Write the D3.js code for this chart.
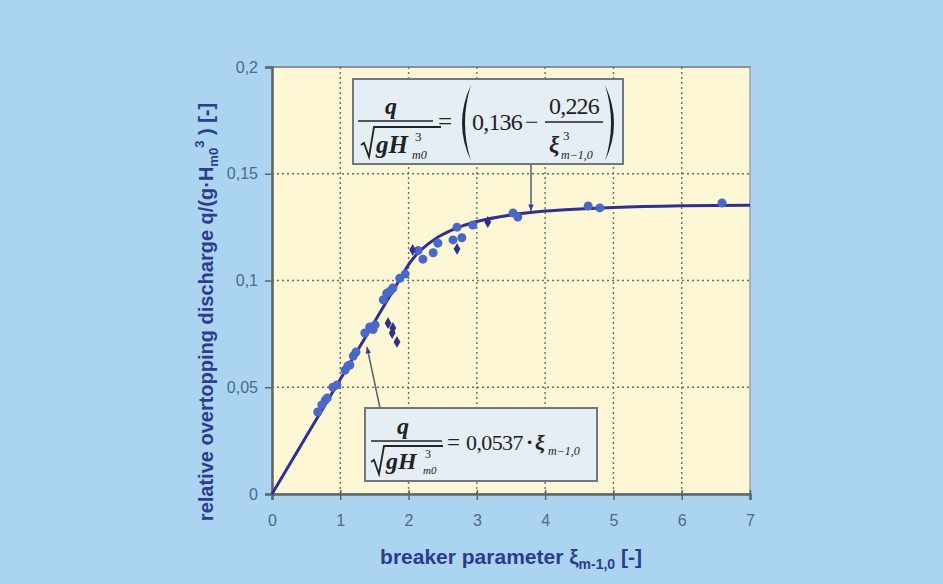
<!DOCTYPE html>
<html>
<head>
<meta charset="utf-8">
<script src="https://cdn.jsdelivr.net/npm/d3@7"></script>
<style>
html,body{margin:0;padding:0;background:#aad4ef;}
svg{display:block;}
</style>
</head>
<body>
<svg id="chart" width="943" height="584"></svg>
<script>
// ---- data ----
const xTicks = [0,1,2,3,4,5,6,7];
const yTicks = [0,0.05,0.1,0.15,0.2];
const yTickLabels = ["0","0,05","0,1","0,15","0,2"];
const xTickLabels = ["0","1","2","3","4","5","6","7"];

// measured points (circles)
const circleX = [0.67,0.73,0.78,0.81,0.89,0.95,1.07,1.11,1.14,1.19,1.23,1.36,1.43,1.51,1.48,1.63,1.68,1.77,1.73,1.87,1.95,2.14,2.21,2.36,2.43,2.71,2.65,2.78,2.94,3.53,3.60,4.63,4.80,6.59];
const circleY = [0.0384,0.0417,0.0440,0.0450,0.0500,0.0510,0.0580,0.0600,0.0604,0.0646,0.0665,0.0754,0.0782,0.0792,0.0770,0.0910,0.0940,0.0965,0.0950,0.1010,0.1030,0.1140,0.1100,0.1130,0.1175,0.1250,0.1190,0.1200,0.1260,0.1316,0.1297,0.1349,0.1340,0.1363];
// measured points (diamonds)
const diamondX = [2.06,2.71,3.16,1.70,1.77,1.76,1.83];
const diamondY = [0.1143,0.1148,0.1274,0.0800,0.0778,0.0754,0.0712];

// fitted curve
const curveX = [0,0.5,1,1.5,1.8,1.9,2.0,2.1,2.2,2.4,2.6,2.8,3.0,3.5,4,4.5,5,6,7];
const curveY = [0,0.0269,0.0537,0.0806,0.0967,0.1020,0.1074,0.1116,0.1148,0.1197,0.1231,0.1257,0.1276,0.1307,0.1325,0.1335,0.1342,0.1350,0.1353];

// ---- layout ----
const svg = d3.select("#chart");
const W = 943, H = 584;
const L = 272, R = 750, T = 67, B = 494;
const x = d3.scaleLinear().domain([0,7]).range([L,R]);
const y = d3.scaleLinear().domain([0,0.2]).range([B,T]);
const sans = "Liberation Sans, Arial, sans-serif";

svg.append("rect").attr("width",W).attr("height",H).attr("fill","#aad4ef");
svg.append("rect").attr("x",L).attr("y",T).attr("width",R-L).attr("height",B-T)
  .attr("fill","#fdf7d6").attr("stroke","#9aa0a4").attr("stroke-width",1.5);
svg.append("line").attr("x1",L).attr("x2",R).attr("y1",T).attr("y2",T).attr("stroke","#8a9298").attr("stroke-width",2);

// grid
const grid = svg.append("g").attr("stroke","#6a6a70").attr("stroke-width",1.4).attr("stroke-dasharray","2,3");
xTicks.filter(d=>d>0&&d<7).forEach(d=>{
  grid.append("line").attr("x1",x(d)).attr("x2",x(d)).attr("y1",T).attr("y2",B);
});
yTicks.filter(d=>d>0&&d<0.2).forEach(d=>{
  grid.append("line").attr("x1",L).attr("x2",R).attr("y1",y(d)).attr("y2",y(d));
});

// axes
const xAxis = d3.axisBottom(x).tickValues(xTicks).tickFormat((d,i)=>xTickLabels[i]).tickSize(6).tickPadding(15);
const yAxis = d3.axisLeft(y).tickValues(yTicks).tickFormat((d,i)=>yTickLabels[i]).tickSize(7).tickPadding(7);
const gx = svg.append("g").attr("transform",`translate(0,${B})`).call(xAxis);
const gy = svg.append("g").attr("transform",`translate(${L},0)`).call(yAxis);
[gx,gy].forEach(g=>{
  g.attr("font-size",null).attr("font-family",null);
  g.select(".domain").attr("stroke","#5c666c").attr("stroke-width",2.5);
  g.selectAll(".tick line").attr("stroke","#5c666c").attr("stroke-width",1.5);
  g.selectAll("text").attr("fill","#4b6b8c").style("font-family",sans).style("font-size","16px");
});
gx.selectAll(".tick line").attr("y1",-4);

// axis titles
svg.append("text").attr("x",511).attr("y",564).attr("text-anchor","middle")
  .style("font-family",sans).attr("font-weight","bold").style("font-size","21px")
  .attr("fill","#2d3c8c")
  .call(t=>{
    t.append("tspan").text("breaker parameter ξ");
    t.append("tspan").style("font-size","14px").attr("dy",5).text("m-1,0");
    t.append("tspan").attr("dy",-5).text(" [-]");
  });
svg.append("text").attr("transform","translate(213,312) rotate(-90)").attr("text-anchor","middle")
  .style("font-family",sans).attr("font-weight","bold").style("font-size","20px")
  .attr("fill","#2d3c8c")
  .call(t=>{
    t.append("tspan").text("relative overtopping discharge q/(g·H");
    t.append("tspan").style("font-size","13px").attr("dy",5).text("m0");
    t.append("tspan").style("font-size","13px").attr("dy",-14).text("3");
    t.append("tspan").attr("dy",9).text(" ) [-]");
  });

// curve
const line = d3.line().x(d=>x(d[0])).y(d=>y(d[1])).curve(d3.curveMonotoneX);
svg.append("path").datum(curveX.map((v,i)=>[v,curveY[i]]))
  .attr("d",line).attr("fill","none").attr("stroke","#2e3190").attr("stroke-width",3);

// points
svg.append("g").selectAll("circle").data(circleX.map((v,i)=>[v,circleY[i]])).join("circle")
  .attr("cx",d=>x(d[0])).attr("cy",d=>y(d[1])).attr("r",4.5).attr("fill","#4a68c6");
svg.append("g").selectAll("path").data(diamondX.map((v,i)=>[v,diamondY[i]])).join("path")
  .attr("d",d3.symbol(d3.symbolDiamond,40))
  .attr("transform",d=>`translate(${x(d[0])},${y(d[1])})`).attr("fill","#2f3088");

// arrows
function arrow(x1,y1,x2,y2){
  svg.append("line").attr("x1",x1).attr("y1",y1).attr("x2",x2).attr("y2",y2)
    .attr("stroke","#5f6770").attr("stroke-width",1.6);
  const a = Math.atan2(y2-y1,x2-x1), s=7;
  const p = [[x2,y2],[x2-s*Math.cos(a-0.4),y2-s*Math.sin(a-0.4)],[x2-s*Math.cos(a+0.4),y2-s*Math.sin(a+0.4)]];
  svg.append("path").attr("d","M"+p.join("L")+"Z").attr("fill","#3a3f8a");
}
arrow(531,164,531,211);
arrow(380,408,367,347);

const serif = "Liberation Serif, Times New Roman, serif";
const ink = "#222226";

function sqrtDen(g, x0, yTop, yBot, w){
  g.append("path").attr("d",`M${x0},${yBot-12} L${x0+3},${yBot-14} L${x0+8},${yBot} L${x0+13},${yTop} L${x0+w},${yTop}`)
    .attr("fill","none").attr("stroke",ink).attr("stroke-width",1.8);
}
function txt(g,xx,yy,s,size,opts={}){
  return g.append("text").attr("x",xx).attr("y",yy).style("font-family",serif).style("font-size",size+"px")
    .attr("font-style",opts.italic?"italic":"normal").attr("font-weight",opts.bold?"bold":"normal")
    .attr("text-anchor",opts.anchor||"start").attr("letter-spacing",opts.ls||0).attr("fill",ink).text(s);
}

// upper equation box
{
  const g = svg.append("g").attr("transform","translate(353,79)");
  g.append("rect").attr("width",270).attr("height",85).attr("fill","#e4eef3").attr("stroke","#6f7880").attr("stroke-width",2);
  txt(g,38,35,"q",24,{italic:true,bold:true,anchor:"middle"});
  g.append("line").attr("x1",5).attr("x2",80).attr("y1",42).attr("y2",42).attr("stroke",ink).attr("stroke-width",1.6);
  sqrtDen(g,8,48,78,80);
  txt(g,23,74,"gH",25,{italic:true,bold:true});
  txt(g,62,62,"3",13);
  txt(g,59,80,"m0",12,{italic:true});
  txt(g,85,51,"=",25);
  g.append("path").attr("d","M118,6 Q100,44 118,82 Q106,44 118,6 Z").attr("fill",ink);
  txt(g,119,51,"0,136",24,{ls:-0.8});
  txt(g,172,51,"−",24);
  txt(g,221,35,"0,226",24,{anchor:"middle",ls:-0.8});
  g.append("line").attr("x1",192).attr("x2",250).attr("y1",43).attr("y2",43).attr("stroke",ink).attr("stroke-width",1.6);
  txt(g,196,73,"ξ",23,{italic:true,bold:true});
  txt(g,210,61,"3",13);
  txt(g,208,80,"m−1,0",12,{italic:true});
  g.append("path").attr("d","M252,6 Q270,44 252,82 Q264,44 252,6 Z").attr("fill",ink);
}

// lower equation box
{
  const g = svg.append("g").attr("transform","translate(365,408)");
  g.append("rect").attr("width",232).attr("height",73).attr("fill","#e4eef3").attr("stroke","#6f7880").attr("stroke-width",2);
  txt(g,38,26,"q",24,{italic:true,bold:true,anchor:"middle"});
  g.append("line").attr("x1",6).attr("x2",77).attr("y1",33).attr("y2",33).attr("stroke",ink).attr("stroke-width",1.6);
  sqrtDen(g,6,38,66,72);
  txt(g,21,61,"gH",24,{italic:true,bold:true});
  txt(g,60,50,"3",12);
  txt(g,58,66,"m0",11,{italic:true});
  txt(g,82,42,"=",23);
  txt(g,101,42,"0,0537",22,{ls:-0.6});
  txt(g,161,41,"·",22,{bold:true});
  txt(g,170,42,"ξ",22,{italic:true,bold:true});
  txt(g,183,47,"m−1,0",12,{italic:true});
}
</script>
</body>
</html>
